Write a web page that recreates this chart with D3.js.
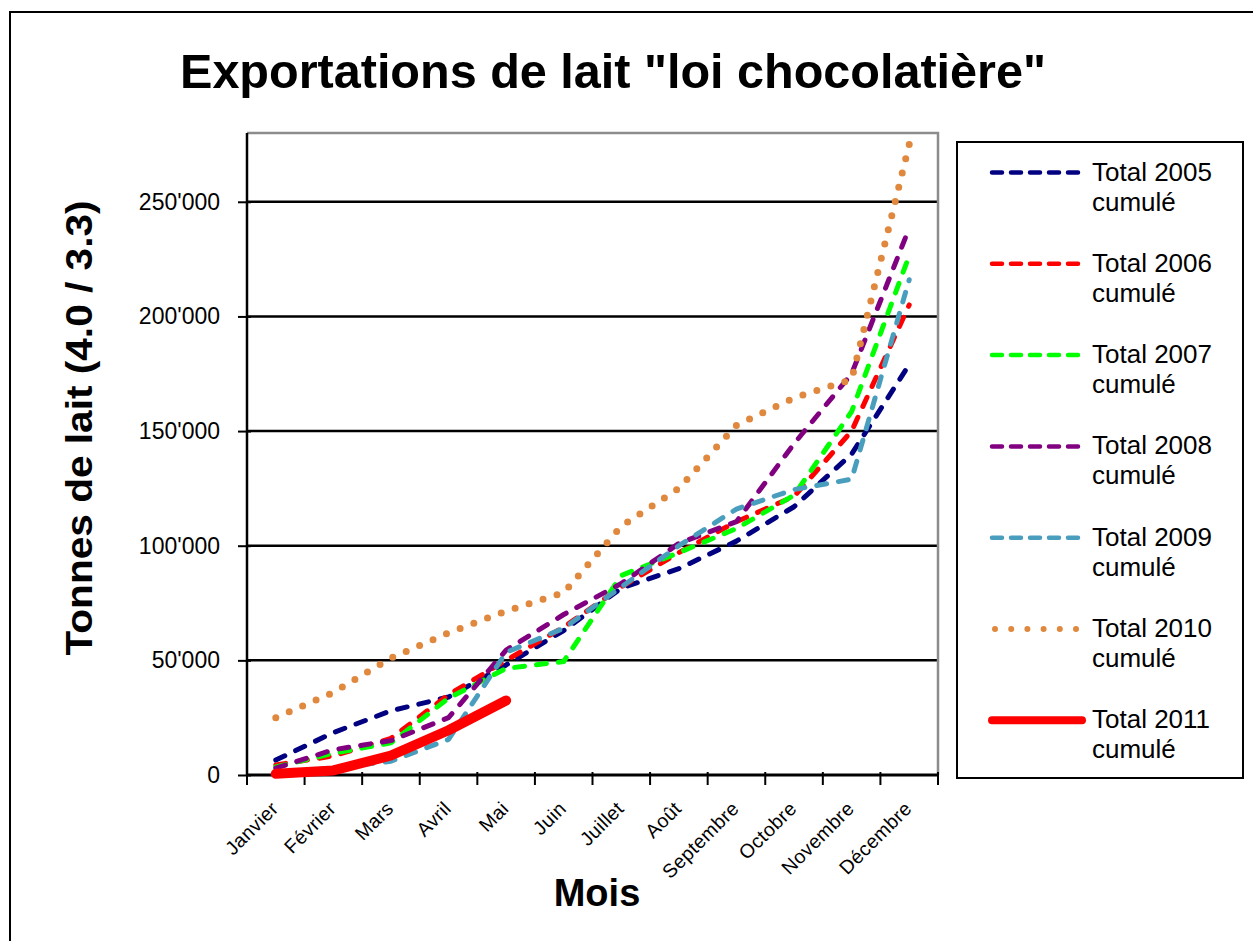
<!DOCTYPE html>
<html>
<head>
<meta charset="utf-8">
<script src="https://cdn.jsdelivr.net/npm/d3@7"></script>
<style>
  body { margin: 0; background: #fff; }
  svg { display: block; font-family: "Liberation Sans", Arial, sans-serif; }
</style>
</head>
<body>
<svg id="chart" width="1253" height="941"></svg>
<script>
(function () {
    'use strict';

    // data
    var months = ['Janvier', 'Février', 'Mars', 'Avril', 'Mai', 'Juin', 'Juillet',
        'Août', 'Septembre', 'Octobre', 'Novembre', 'Décembre'];
    var yTicks = [0, 50000, 100000, 150000, 200000, 250000];

    var total2005 = [6500, 18500, 28000, 34000, 48000, 63000, 81500, 90000, 102000, 117000, 140000, 179000];
    var total2006 = [4400, 8300, 16000, 35000, 50000, 64500, 82000, 97000, 110500, 121500, 150000, 205000];
    var total2007 = [3500, 9500, 14000, 33500, 46500, 49500, 87000, 97000, 107500, 122000, 158500, 226500];
    var total2008 = [3000, 11000, 15000, 25000, 54500, 70000, 83500, 101000, 110500, 144500, 175000, 238500];
    var total2009 = [1000, 3000, 6000, 15500, 53500, 64000, 82000, 100000, 116000, 124500, 129000, 216000];
    var total2010 = [25000, 36000, 51000, 62000, 71500, 79500, 108500, 125000, 152500, 164500, 172500, 275000];
    var total2011 = [500, 2000, 8500, 19500, 32500];

    var seriesNames = ['Total 2005', 'Total 2006', 'Total 2007', 'Total 2008', 'Total 2009', 'Total 2010', 'Total 2011'];
    var seriesValues = [total2005, total2006, total2007, total2008, total2009, total2010, total2011];

    var styles = [
        { color: '#000080', width: 5, dash: '10 12' },
        { color: '#FF0000', width: 5, dash: '10 12' },
        { color: '#00FF00', width: 5, dash: '10 12' },
        { color: '#800080', width: 5, dash: '10 12' },
        { color: '#4A9EBD', width: 5, dash: '10 12' },
        { color: '#E0883E', width: 7, dash: null, dotGap: 14.7 },
        { color: '#FF0000', width: 10, dash: null }
    ];

    var plotLeft = 247, plotRight = 938, plotTop = 133, plotBottom = 775;

    var svg = d3.select('#chart');

    // outer chart frame (runs off the page on right and bottom)
    svg.append('rect')
        .attr('x', 10).attr('y', 12)
        .attr('width', 1280).attr('height', 960)
        .attr('fill', '#fff')
        .attr('stroke', '#000')
        .attr('stroke-width', 2);

    var x = d3.scalePoint().domain(months).range([plotLeft, plotRight]).padding(0.5);
    var xBand = d3.scaleBand().domain(months).range([plotLeft, plotRight]);
    var y = d3.scaleLinear().domain([0, 280000]).range([plotBottom, plotTop]);

    var locale = d3.formatLocale({ decimal: '.', thousands: "'", grouping: [3], currency: ['', ''] });
    var fmt = locale.format(',');

    // gridlines
    svg.append('g')
        .selectAll('line')
        .data(yTicks.filter(function (d) { return d > 0; }))
        .enter().append('line')
        .attr('x1', plotLeft).attr('x2', plotRight)
        .attr('y1', function (d) { return y(d); })
        .attr('y2', function (d) { return y(d); })
        .attr('stroke', '#000')
        .attr('stroke-width', 2.5);

    // plot border top / right
    svg.append('path')
        .attr('d', 'M' + plotLeft + ',' + plotTop + 'H' + plotRight + 'V' + plotBottom)
        .attr('fill', 'none')
        .attr('stroke', '#8c8c8c')
        .attr('stroke-width', 2.5);

    // y axis
    var yAxis = d3.axisLeft(y)
        .tickValues(yTicks)
        .tickFormat(function (d) { return fmt(d); })
        .tickSizeInner(10)
        .tickSizeOuter(0)
        .tickPadding(17);

    var gy = svg.append('g')
        .attr('transform', 'translate(' + plotLeft + ',0)')
        .call(yAxis);
    gy.select('.domain').attr('stroke', '#000').attr('stroke-width', 2.5)
        .attr('d', 'M0,' + plotTop + 'V' + plotBottom);
    gy.selectAll('.tick line').attr('stroke', '#000').attr('stroke-width', 2).attr('x2', -9).attr('x1', 4);
    gy.selectAll('.tick text')
        .attr('font-size', 23)
        .attr('font-family', '"Liberation Sans", Arial, sans-serif')
        .attr('fill', '#000');

    // x axis
    var gx = svg.append('g')
        .attr('transform', 'translate(0,' + plotBottom + ')');
    gx.append('line')
        .attr('x1', plotLeft).attr('x2', plotRight)
        .attr('stroke', '#000').attr('stroke-width', 3);
    var tickPos = months.map(function (m) { return xBand(m); }).concat([plotRight]);
    gx.selectAll('line.tick')
        .data(tickPos)
        .enter().append('line')
        .attr('class', 'tick')
        .attr('x1', function (d) { return d; })
        .attr('x2', function (d) { return d; })
        .attr('y1', -3).attr('y2', 10)
        .attr('stroke', '#000').attr('stroke-width', 2);
    gx.selectAll('text')
        .data(months)
        .enter().append('text')
        .attr('transform', function (d) { return 'translate(' + (x(d) - 1) + ',30) rotate(-45)'; })
        .attr('text-anchor', 'end')
        .attr('dy', '0.35em')
        .attr('font-size', 19.5)
        .attr('letter-spacing', 0.4)
        .attr('fill', '#000')
        .text(function (d) { return d; });

    // series
    var line = d3.line()
        .x(function (d, i) { return x(months[i]); })
        .y(function (d) { return y(d); });

    var gLines = svg.append('g');
    seriesValues.forEach(function (vals, i) {
        var s = styles[i];
        var path = gLines.append('path')
            .datum(vals)
            .attr('d', line)
            .attr('fill', 'none')
            .attr('stroke', s.color)
            .attr('stroke-width', s.width)
            .attr('stroke-linecap', 'round')
            .attr('stroke-linejoin', 'round')
            .attr('stroke-dasharray', s.dash);
        if (s.dotGap) {
            // spread the dots so one sits on each end point
            var len = path.node().getTotalLength();
            var gap = len / Math.round(len / s.dotGap);
            path.attr('stroke-dasharray', '0 ' + gap);
        }
    });

    // titles
    svg.append('text')
        .attr('x', 613).attr('y', 88)
        .attr('text-anchor', 'middle')
        .attr('font-size', 48)
        .attr('font-weight', 'bold')
        .attr('textLength', 866)
        .attr('lengthAdjust', 'spacingAndGlyphs')
        .text('Exportations de lait "loi chocolatière"');

    svg.append('text')
        .attr('transform', 'translate(92,428) rotate(-90)')
        .attr('text-anchor', 'middle')
        .attr('font-size', 36)
        .attr('font-weight', 'bold')
        .attr('textLength', 455)
        .attr('lengthAdjust', 'spacingAndGlyphs')
        .text('Tonnes de lait (4.0 / 3.3)');

    svg.append('text')
        .attr('x', 597).attr('y', 906)
        .attr('text-anchor', 'middle')
        .attr('font-size', 38)
        .attr('font-weight', 'bold')
        .text('Mois');

    // legend
    var legend = svg.append('g');
    legend.append('rect')
        .attr('x', 957).attr('y', 142)
        .attr('width', 286).attr('height', 636)
        .attr('fill', '#fff')
        .attr('stroke', '#000')
        .attr('stroke-width', 2);

    var items = legend.selectAll('g.item')
        .data(seriesNames)
        .enter().append('g')
        .attr('class', 'item')
        .attr('transform', function (d, i) { return 'translate(0,' + (172.5 + i * 91.3) + ')'; });

    items.append('line')
        .attr('x1', function (d, i) { return i === 5 ? 995 : 992; })
        .attr('x2', 1082)
        .attr('y1', 0).attr('y2', 0)
        .attr('stroke', function (d, i) { return styles[i].color; })
        .attr('stroke-width', function (d, i) { return i === 6 ? 8 : (i === 5 ? 6 : 4.5); })
        .attr('stroke-linecap', 'round')
        .attr('stroke-dasharray', function (d, i) {
            if (i === 6) { return null; }
            if (i === 5) { return '0 16.2'; }
            return '10 9';
        });

    var txt = items.append('text')
        .attr('x', 1092)
        .attr('y', 8)
        .attr('font-size', 26)
        .attr('fill', '#000');
    txt.append('tspan').attr('x', 1092).attr('dy', 0).text(function (d) { return d; });
    txt.append('tspan').attr('x', 1092).attr('dy', 30).text('cumulé');
})();
</script>
</body>
</html>
